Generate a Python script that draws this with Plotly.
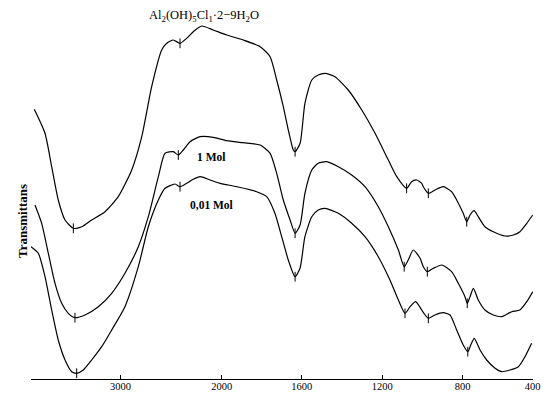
import numpy as np
import plotly.graph_objects as go

# ---------------- data (wavenumber cm^-1, transmittance arbitrary units) ----------------
wn_a = [3852, 3746, 3680, 3615, 3548, 3466, 3383, 3285, 3153, 3022, 2889, 2790, 2692, 2593,
        2543, 2478, 2412, 2346, 2281, 2198, 2083, 1975, 1892, 1808, 1758, 1725, 1692, 1667,
        1642, 1633, 1608, 1584, 1550, 1518, 1484, 1435, 1369, 1302, 1236, 1170, 1128, 1079,
        1054, 1029, 1004, 996, 971, 938, 897, 855, 830, 797, 777, 758, 735, 711, 673, 625,
        558, 511, 473, 434, 397]
t_a = [269.7, 245.7, 212.3, 179, 159, 150.7, 152.3, 159, 167.3, 182.3, 209, 242.3, 292.3, 329,
       335.7, 339, 335.7, 340.7, 347.3, 353, 349, 344, 339, 332.3, 322.3, 299, 272.3, 249,
       229, 227.3, 235.7, 275.7, 299, 304, 305.7, 302.3, 289, 269, 245.7, 219, 202.3, 190.7,
       197.3, 199, 195.7, 192.3, 185.7, 189, 192.3, 187.3, 179, 165.7, 157.3, 164, 168.3,
       162.3, 152.3, 147.3, 143, 144, 147.3, 155.7, 164]

wn_b = [3845, 3779, 3713, 3647, 3581, 3516, 3450, 3351, 3219, 3087, 2956, 2824, 2725, 2626,
        2560, 2478, 2429, 2379, 2313, 2214, 2083, 1975, 1892, 1808, 1758, 1725, 1692, 1658,
        1633, 1608, 1584, 1550, 1518, 1476, 1418, 1352, 1286, 1220, 1170, 1120, 1091, 1071,
        1046, 1012, 996, 976, 946, 904, 855, 822, 787, 774, 758, 739, 711, 673, 625, 577,
        520, 473, 434, 397]
t_b = [174, 155.7, 125.7, 95.7, 75.7, 65.7, 61.3, 64, 72.3, 85.7, 105.7, 132.3, 162.3, 202.3,
       225.7, 227.3, 224, 229, 237.3, 242.3, 241.7, 238.3, 236.3, 234, 225.7, 205.7, 179, 159,
       145.7, 154, 185.7, 209, 215.7, 217.3, 212.3, 204, 192.3, 172.3, 152.3, 129, 112.3, 119,
       129, 120.7, 112.3, 107.3, 110.7, 114, 107.3, 95.7, 82.3, 75.7, 82.3, 90.7, 79, 69, 64,
       62.3, 67.3, 69, 77.3, 87.3]

wn_c = [3884, 3812, 3746, 3680, 3615, 3548, 3482, 3433, 3368, 3285, 3186, 3087, 2956, 2824,
        2725, 2626, 2560, 2461, 2412, 2346, 2281, 2214, 2116, 2017, 1925, 1825, 1775, 1734,
        1700, 1667, 1633, 1608, 1584, 1550, 1518, 1484, 1418, 1352, 1286, 1220, 1162, 1120,
        1087, 1062, 1034, 1004, 993, 971, 938, 897, 863, 830, 797, 771, 754, 734, 701, 663,
        615, 577, 530, 482, 444, 406]
t_c = [132.3, 125.7, 102.3, 69, 39, 19, 7.3, 5.7, 9, 19, 32.3, 49, 72.3, 112.3,
       152.3, 179, 190.7, 195, 192.3, 195.7, 199.7, 202.3, 199, 195.7, 192.3, 187.3, 182.3,
       165.7, 142.3, 119, 102.3, 111, 142.3, 162.3, 169, 170.7, 165.7, 155.7, 142.3, 122.3,
       99, 79, 65.7, 72.3, 77.3, 69, 65.7, 60.7, 64, 66.3, 64, 49, 34, 27.3, 34, 40.7, 29,
       19, 10.7, 7.3, 9, 12.3, 22.3, 35.7]

# recorder marks on each trace (cm^-1)
marks_a = [3466, 2412, 1633, 1079, 971, 777]
marks_b = [3450, 2429, 1633, 1091, 976, 774]
marks_c = [3433, 2412, 1633, 1087, 971, 771]

tick_wn = [3000, 2000, 1600, 1200, 800, 400]
tick_text = ["3000", "2000", "1600", "1200", "800", "400"]

title_text = "Al<sub>2</sub>(OH)<sub>5</sub>Cl<sub>1</sub>·2−9H<sub>2</sub>O"
label_1 = "1 Mol"
label_2 = "0,01 Mol"
y_title = "Transmittans"

# ---------------- chart-paper axis scale (scale change at 2000 cm^-1) ----------------
scale_wn = np.array([400, 800, 1200, 1600, 2000, 3000, 4000], dtype=float)
scale_pos = np.array([532.7, 462.7, 382.3, 301.7, 221.7, 120.5, 19.3])


def to_u(w):
    return np.interp(np.asarray(w, dtype=float), scale_wn, scale_pos)


fig = go.Figure()
line_style = dict(color="black", width=1.2, shape="spline", smoothing=0.6)
for wn, t, mk in [(wn_a, t_a, marks_a), (wn_b, t_b, marks_b), (wn_c, t_c, marks_c)]:
    fig.add_trace(go.Scatter(x=to_u(wn), y=t, mode="lines", line=line_style,
                             hoverinfo="skip", showlegend=False))
    wn_rev = np.array(wn[::-1], dtype=float)
    t_rev = np.array(t[::-1], dtype=float)
    fig.add_trace(go.Scatter(x=to_u(mk), y=np.interp(mk, wn_rev, t_rev), mode="markers",
                             marker=dict(symbol="line-ns-open", size=7, color="black",
                                         line=dict(color="black", width=1)),
                             hoverinfo="skip", showlegend=False))

serif = "Liberation Serif"
fig.add_annotation(x=float(to_u(2175)), y=1.035, xref="x", yref="paper", text=title_text,
                   showarrow=False, font=dict(family=serif, size=12.5, color="black"))
fig.add_annotation(x=float(to_u(2105)), y=222, xref="x", yref="y", text="<b>" + label_1 + "</b>",
                   showarrow=False, font=dict(family=serif, size=11.5, color="black"))
fig.add_annotation(x=float(to_u(2105)), y=174, xref="x", yref="y", text="<b>" + label_2 + "</b>",
                   showarrow=False, font=dict(family=serif, size=11.5, color="black"))
fig.add_annotation(x=-0.036, y=0.44, xref="paper", yref="paper", text="<b>" + y_title + "</b>",
                   textangle=-90, showarrow=False, font=dict(family=serif, size=13, color="black"))

fig.update_xaxes(range=[31, 533], tickvals=to_u(tick_wn).tolist(), ticktext=tick_text,
                 showline=True, linecolor="black", linewidth=1.2, ticks="inside", ticklen=4,
                 tickcolor="black", tickwidth=1, showgrid=False, zeroline=False, automargin=False,
                 ticklabelstandoff=-3,
                 tickfont=dict(family=serif, size=10.5, color="black"))
fig.update_yaxes(range=[0, 360], visible=False, automargin=False)
fig.update_layout(width=549, height=397, margin=dict(l=31, r=16, t=19, b=18),
                  paper_bgcolor="white", plot_bgcolor="white")
fig.write_html("out.html")
